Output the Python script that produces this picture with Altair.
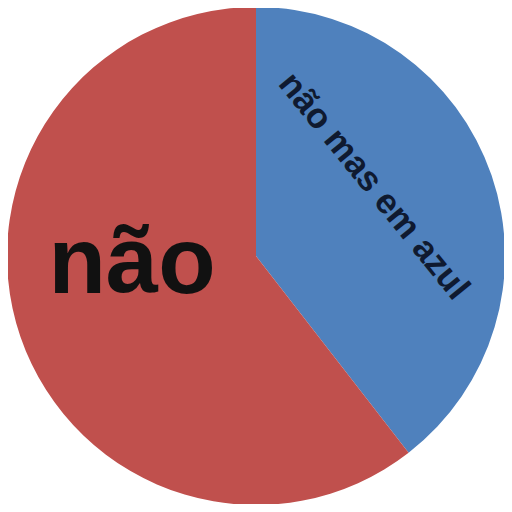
import altair as alt
import pandas as pd

categories = ["não mas em azul", "não"]
values = [39.5, 60.5]
slice_order = [1, 2]
colors = ["#4f81bd", "#c0504d"]

df = pd.DataFrame({"category": categories, "value": values, "ord": slice_order})

base = alt.Chart(df)

pie = base.mark_arc(radius=249, stroke=None).encode(
    theta=alt.Theta("value:Q", stack=True),
    color=alt.Color("category:N", scale=alt.Scale(domain=categories, range=colors), legend=None),
    order=alt.Order("ord:Q"),
    x=alt.value(248),
    y=alt.value(248),
)

blue_label = alt.Chart(pd.DataFrame({"t": [categories[0]]})).mark_text(
    font="Liberation Sans", fontWeight="bold", fontSize=35, angle=51,
    color="#0f1a30", align="center", baseline="middle"
).encode(text="t:N", x=alt.value(366), y=alt.value(178))

red_label = alt.Chart(pd.DataFrame({"t": [categories[1]]})).mark_text(
    font="Liberation Sans", fontWeight="bold", fontSize=94,
    color="#111111", align="center", baseline="alphabetic"
).encode(text="t:N", x=alt.value(124), y=alt.value(285))

chart = alt.layer(pie, blue_label, red_label).properties(
    width=496, height=496, padding=0,
    autosize=alt.AutoSizeParams(type="none"),
).configure_view(stroke=None)

chart.save("out.html", embed_options={"renderer": "svg", "actions": False})
